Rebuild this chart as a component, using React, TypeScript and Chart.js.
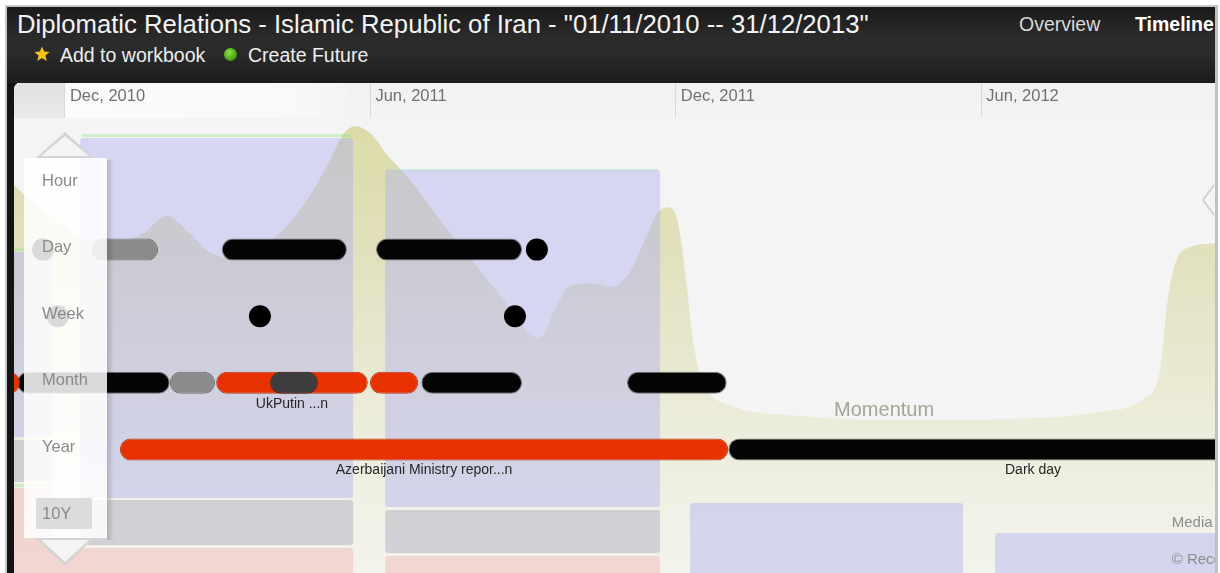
import React, { useEffect, useRef } from "react";
import { Chart, registerables } from "chart.js";

Chart.register(...registerables);

// Time is measured in months since 1 Nov 2010
const viewStart = 0;
const viewEnd = 23.59;
const tickValues = [1, 7, 13, 19];
const tickLabels = ["Dec, 2010", "Jun, 2011", "Dec, 2011", "Jun, 2012"];
const selectedRange = [1, 6.55];

// Zoom-level rows of the timeline (index = row)
const rowLabels = ["Hour", "Day", "Week", "Month", "Year", "10Y"];
const rowMin = -0.976;
const rowMax = 5.856;

const blackBars = [
  { x: [4.08, 6.54], y: 1 },
  { x: [7.11, 9.98], y: 1 },
  { x: [0.06, 3.06], y: 3 },
  { x: [8.0, 9.98], y: 3 },
  { x: [12.04, 14.0], y: 3 },
  { x: [14.03, 26.0], y: 4, label: "Dark day" },
];
const redBars = [
  { x: [-1, 0.12], y: 3 },
  { x: [3.97, 6.95], y: 3, label: "UkPutin ...n" },
  { x: [6.99, 7.94], y: 3 },
  { x: [2.08, 14.03], y: 4, label: "Azerbaijani Ministry repor...n" },
];
const grayBars = [
  { x: [1.53, 2.83], y: 1 },
  { x: [3.06, 3.95], y: 3 },
];
const darkGrayBars = [{ x: [5.03, 5.97], y: 3 }];
const eventDots = [
  { x: 0.57, y: 1 },
  { x: 10.27, y: 1 },
  { x: 0.86, y: 2 },
  { x: 4.83, y: 2 },
  { x: 9.84, y: 2 },
];

// Momentum curve (0-100)
const momentumMonths = [
  0, 0.31, 0.71, 1.3, 1.89, 2.57, 3.0, 3.46, 3.85, 4.34, 4.83, 5.32, 5.81, 6.21, 6.5, 6.7,
  6.99, 7.38, 7.78, 8.37, 9.15, 9.74, 10.13, 10.33, 10.62, 10.92, 11.31, 11.74, 12.1, 12.39,
  12.65, 12.84, 13.04, 13.2, 13.35, 13.57, 14.06, 15.44, 17.4, 19.36, 21.33, 22.21, 22.51,
  22.66, 22.82, 23.09, 23.59,
];
const momentumValues = [
  85.3, 82.0, 78.7, 73.8, 71.9, 74.9, 78.5, 74.5, 70.5, 69.2, 71.2, 75.8, 82.9, 90.8, 96.9, 98.2,
  96.7, 91.2, 86.4, 77.6, 66.6, 58.2, 52.7, 51.6, 57.8, 63.1, 63.7, 62.9, 66.2, 73.2,
  79.3, 80.4, 77.1, 64.4, 50.1, 41.3, 36.9, 34.5, 33.6, 33.8, 35.4, 38.5, 44.6,
  60.0, 68.4, 71.6, 72.5,
];

// Background lanes (months / row units)
const laneStart = [-0.5, -0.5, -0.5, 0.75, 1.3, 1.3, 7.29, 7.29, 7.29, 13.28, 19.27];
const laneEnd = [0.75, 0.75, 0.75, 6.66, 6.66, 6.66, 12.69, 12.69, 12.69, 18.64, 25];
const laneTop = [1.036, 3.859, 4.58, 5.48, -0.676, 4.76, -0.195, 4.91, 5.601, 4.805, 5.255];
const laneBottom = [3.814, 4.489, 6.11, 6.11, 4.73, 5.435, 4.865, 5.556, 6.11, 6.11, 6.11];
const laneKind = ["media", "entity", "alert", "alert", "media", "entity", "media", "entity", "alert", "media", "media"];
const laneAccent = [true, false, true, false, true, false, true, false, false, false, false];

const FONT = '"Liberation Sans", Arial, Helvetica, sans-serif';

const laneFill: Record<string, string> = {
  media: "rgba(172,172,240,0.42)",
  entity: "rgba(168,168,190,0.45)",
  alert: "rgba(240,160,160,0.35)",
};

function roundRect(ctx: CanvasRenderingContext2D, x: number, y: number, w: number, h: number, r: number) {
  ctx.beginPath();
  ctx.moveTo(x + r, y);
  ctx.lineTo(x + w - r, y);
  ctx.quadraticCurveTo(x + w, y, x + w, y + r);
  ctx.lineTo(x + w, y + h - r);
  ctx.quadraticCurveTo(x + w, y + h, x + w - r, y + h);
  ctx.lineTo(x + r, y + h);
  ctx.quadraticCurveTo(x, y + h, x, y + h - r);
  ctx.lineTo(x, y + r);
  ctx.quadraticCurveTo(x, y, x + r, y);
  ctx.closePath();
}

export default function App() {
  const ref = useRef<HTMLCanvasElement>(null);

  useEffect(() => {
    const canvas = ref.current;
    if (!canvas) return;

    const bgPlugin = {
      id: "bgPlugin",
      beforeDraw(chart: any) {
        const { ctx, width, height, chartArea } = chart;
        const xs = chart.scales.x;
        ctx.save();
        ctx.fillStyle = "#f4f4f4";
        ctx.fillRect(0, 0, width, height);
        const top = chartArea.top;
        const g = ctx.createLinearGradient(0, 0, 0, top);
        g.addColorStop(0, "#f1f1f1");
        g.addColorStop(1, "#f3f3f3");
        ctx.fillStyle = g;
        ctx.fillRect(0, 0, width, top);
        const a = xs.getPixelForValue(viewStart);
        const b = xs.getPixelForValue(selectedRange[0]);
        const c = xs.getPixelForValue(selectedRange[1]);
        const g2 = ctx.createLinearGradient(0, 0, 0, top);
        g2.addColorStop(0, "#e2e2e2");
        g2.addColorStop(1, "#e9e9e9");
        ctx.fillStyle = g2;
        ctx.fillRect(a, 0, b - a, top);
        const g3 = ctx.createLinearGradient(b, 0, c, 0);
        g3.addColorStop(0, "#fbfbfb");
        g3.addColorStop(0.85, "#f8f8f8");
        g3.addColorStop(1, "#f3f3f3");
        ctx.fillStyle = g3;
        ctx.fillRect(b, 0, c - b, top);
        ctx.restore();
      },
    };

    const lanePlugin = {
      id: "lanePlugin",
      afterDatasetDraw(chart: any, args: any) {
        if (args.index !== 0) return;
        const { ctx, chartArea } = chart;
        const xs = chart.scales.x;
        const ys = chart.scales.y;
        ctx.save();
        ctx.beginPath();
        ctx.rect(chartArea.left, chartArea.top, chartArea.right - chartArea.left, chartArea.bottom - chartArea.top);
        ctx.clip();
        for (let i = 0; i < laneStart.length; i++) {
          const x0 = xs.getPixelForValue(laneStart[i]);
          const x1 = xs.getPixelForValue(laneEnd[i]);
          const y0 = ys.getPixelForValue(laneTop[i]);
          const y1 = ys.getPixelForValue(laneBottom[i]);
          ctx.fillStyle = laneFill[laneKind[i]];
          roundRect(ctx, x0, y0, x1 - x0, y1 - y0, 3);
          ctx.fill();
          if (laneAccent[i]) {
            ctx.fillStyle = i === 6 ? "rgba(150,220,200,0.35)" : "rgba(150,230,140,0.42)";
            ctx.fillRect(x0 + 2, y0 - (i === 6 ? 1 : 4), x1 - x0 - 4, i === 6 ? 2 : 3);
          }
        }
        // lane texts
        ctx.fillStyle = "#a4a496";
        ctx.font = `20px ${FONT}`;
        ctx.textAlign = "center";
        ctx.textBaseline = "middle";
        ctx.fillText("Momentum", xs.getPixelForValue(17.09), ys.getPixelForValue(3.41));
        ctx.fillStyle = "#8c8c8c";
        ctx.font = `15px ${FONT}`;
        ctx.textAlign = "left";
        ctx.fillText("Media", xs.getPixelForValue(22.74), ys.getPixelForValue(5.105));
        ctx.fillText("\u00A9 Recorded Future", xs.getPixelForValue(22.74), ys.getPixelForValue(5.66));
        ctx.restore();
      },
    };

    const overlayPlugin = {
      id: "overlayPlugin",
      afterDatasetsDraw(chart: any) {
        const { ctx, chartArea } = chart;
        const xs = chart.scales.x;
        const ys = chart.scales.y;
        ctx.save();
        // bar labels
        ctx.font = `14px ${FONT}`;
        ctx.fillStyle = "#262626";
        ctx.textAlign = "center";
        ctx.textBaseline = "middle";
        [blackBars, redBars, grayBars, darkGrayBars].forEach((set) => {
          set.forEach((b: any) => {
            if (!b.label) return;
            const cx = xs.getPixelForValue((b.x[0] + b.x[1]) / 2);
            ctx.fillText(b.label, cx, ys.getPixelForValue(b.y) + 21);
          });
        });

        // right chevron
        ctx.strokeStyle = "rgba(200,200,200,0.8)";
        ctx.lineWidth = 2;
        ctx.beginPath();
        ctx.moveTo(chartArea.right - 1, 102);
        ctx.lineTo(chartArea.right - 12, 117);
        ctx.lineTo(chartArea.right - 1, 132);
        ctx.stroke();

        // zoom panel
        const pl = 10, pr = 93, pt = 75, pb = 455;
        const sg = ctx.createLinearGradient(pr, 0, pr + 7, 0);
        sg.addColorStop(0, "rgba(0,0,0,0.16)");
        sg.addColorStop(1, "rgba(0,0,0,0)");
        ctx.fillStyle = sg;
        ctx.fillRect(pr, pt + 2, 7, pb - pt);
        ctx.fillStyle = "rgba(255,255,255,0.85)";
        ctx.fillRect(pl, pt, pr - pl, pb - pt);

        // arrows
        const tri = (ax: number, ay: number, bx1: number, bx2: number, by: number, fill: string) => {
          ctx.beginPath();
          ctx.moveTo(ax, ay);
          ctx.lineTo(bx1, by);
          ctx.lineTo(bx2, by);
          ctx.closePath();
          ctx.fillStyle = fill;
          ctx.fill();
        };
        tri(51, 49, 22, 80, 75, "#d4d4d4");
        tri(51, 53, 27, 75, 73, "#f4f4f4");
        tri(51, 483, 22, 80, 455, "#d4d4d4");
        tri(51, 479, 27, 75, 457, "#f4f4f4");

        // row labels
        ctx.font = `16.5px ${FONT}`;
        ctx.textAlign = "left";
        ctx.textBaseline = "middle";
        rowLabels.forEach((lab, i) => {
          const y = ys.getPixelForValue(i) - 2;
          if (i === rowLabels.length - 1) {
            ctx.fillStyle = "#dcdcdc";
            roundRect(ctx, 22, y - 16, 56, 31, 2);
            ctx.fill();
          }
          ctx.fillStyle = "#8a8a8a";
          ctx.fillText(lab, 28, y);
        });
        ctx.restore();
      },
    };

    const barCommon = {
      type: "bar" as const,
      indexAxis: "y" as const,
      xAxisID: "x",
      yAxisID: "y",
      grouped: false,
      maxBarThickness: 22,
      borderRadius: 11,
      borderSkipped: false,
      borderWidth: 1,
    };

    const chart = new Chart(canvas, {
      type: "bar",
      data: {
        datasets: [
          {
            type: "line",
            label: "Momentum",
            data: momentumMonths.map((m, i) => ({ x: m, y: momentumValues[i] })),
            xAxisID: "x",
            yAxisID: "y2",
            fill: "start",
            borderWidth: 0,
            pointRadius: 0,
            cubicInterpolationMode: "monotone",
            order: 10,
            backgroundColor: (c: any) => {
              const a = c.chart.chartArea;
              if (!a) return "rgb(226,225,190)";
              const g = c.chart.ctx.createLinearGradient(0, a.top, 0, a.bottom);
              g.addColorStop(0, "rgb(219,218,166)");
              g.addColorStop(0.3, "rgb(226,225,190)");
              g.addColorStop(0.7, "rgb(237,237,221)");
              g.addColorStop(1, "rgb(243,243,237)");
              return g;
            },
          } as any,
          { ...barCommon, label: "Black", data: blackBars, backgroundColor: "#050505", borderColor: "rgba(80,80,80,0.7)", order: 5 } as any,
          { ...barCommon, label: "Red", data: redBars, backgroundColor: "#e83100", borderColor: "rgba(175,40,0,0.85)", order: 4 } as any,
          { ...barCommon, label: "Gray", data: grayBars, backgroundColor: "#8b8b8b", borderColor: "#727272", order: 3 } as any,
          { ...barCommon, label: "Dark", data: darkGrayBars, backgroundColor: "#3d3d3d", borderColor: "#2e2e2e", order: 2 } as any,
          {
            type: "line",
            label: "Dots",
            data: eventDots,
            xAxisID: "x",
            yAxisID: "y",
            showLine: false,
            pointRadius: 11,
            pointBorderWidth: 0,
            pointBackgroundColor: "#000",
            order: 1,
          } as any,
        ],
      },
      options: {
        animation: false,
        responsive: false,
        devicePixelRatio: 1,
        events: [],
        layout: { padding: 0, autoPadding: false },
        plugins: { legend: { display: false }, tooltip: { enabled: false }, title: { display: false } },
        scales: {
          x: {
            type: "linear",
            position: "top",
            offset: false,
            min: viewStart,
            max: viewEnd,
            afterBuildTicks: (s: any) => {
              s.ticks = tickValues.map((v) => ({ value: v }));
            },
            afterFit: (s: any) => {
              s.height = 35;
              s.paddingLeft = 0;
              s.paddingRight = 0;
            },
            grid: { offset: false, drawOnChartArea: false, drawTicks: true, tickLength: 35, color: "#d9d9d9", lineWidth: 1 },
            border: { display: false },
            ticks: {
              align: "start",
              padding: -23,
              labelOffset: 5,
              color: "#707070",
              font: { family: FONT, size: 16.5 },
              autoSkip: false,
              maxRotation: 0,
              callback: (_v: any, i: number) => tickLabels[i] ?? "",
            },
          },
          y: { type: "linear", display: false, offset: false, grid: { offset: false }, reverse: true, min: rowMin, max: rowMax },
          y2: { type: "linear", display: false, offset: false, grid: { offset: false }, min: 0, max: 100 },
        },
      } as any,
      plugins: [bgPlugin, lanePlugin, overlayPlugin],
    });

    return () => chart.destroy();
  }, []);

  const header: React.CSSProperties = {
    position: "absolute",
    left: 7,
    top: 7,
    width: 1208,
    height: 76,
    background: "linear-gradient(180deg,#1a1a1a 0%,#2b2b2b 40%,#2a2a2a 62%,#1c1c1c 100%)",
    overflow: "hidden",
  };

  return (
    <div
      style={{
        position: "fixed",
        left: 0,
        top: 0,
        width: 1220,
        height: 573,
        background: "#ffffff",
        overflow: "hidden",
        fontFamily: FONT,
      }}
    >
      <div style={{ position: "absolute", left: 5, top: 5, width: 1213, height: 2, background: "#c8c8c8" }} />
      <div style={{ position: "absolute", left: 5, top: 5, width: 2, height: 568, background: "#c8c8c8" }} />
      <div style={{ position: "absolute", left: 1215, top: 5, width: 3, height: 568, background: "#c0c0c0" }} />
      <div style={header}>
        <div style={{ position: "absolute", left: 10, top: 2, fontSize: 25.7, lineHeight: "30px", color: "#f3f3f3", whiteSpace: "nowrap" }}>
          Diplomatic Relations - Islamic Republic of Iran - "01/11/2010 -- 31/12/2013"
        </div>
        <svg style={{ position: "absolute", left: 27, top: 39 }} width="16" height="16" viewBox="0 0 16 16">
          <polygon points="8,0.5 10.2,5.6 15.6,5.9 11.4,9.4 12.8,15 8,11.9 3.2,15 4.6,9.4 0.4,5.9 5.8,5.6" fill="#f3c31b" />
        </svg>
        <div style={{ position: "absolute", left: 53, top: 36, fontSize: 19.5, lineHeight: "24px", color: "#eeeeee", whiteSpace: "nowrap" }}>
          Add to workbook
        </div>
        <div
          style={{
            position: "absolute",
            left: 217,
            top: 41,
            width: 13,
            height: 13,
            borderRadius: "50%",
            background: "radial-gradient(circle at 40% 35%, #8fe040 0%, #4aa818 60%, #2f7a0c 100%)",
          }}
        />
        <div style={{ position: "absolute", left: 241, top: 36, fontSize: 19.5, lineHeight: "24px", color: "#eeeeee", whiteSpace: "nowrap" }}>
          Create Future
        </div>
        <div style={{ position: "absolute", left: 1012, top: 5, fontSize: 19.5, lineHeight: "24px", color: "#d8d8d8", whiteSpace: "nowrap" }}>
          Overview
        </div>
        <div style={{ position: "absolute", left: 1128, top: 5, fontSize: 19.5, lineHeight: "24px", color: "#ffffff", fontWeight: "bold", whiteSpace: "nowrap" }}>
          Timeline
        </div>
      </div>
      <div style={{ position: "absolute", left: 7, top: 83, width: 10, height: 490, background: "#141414" }} />
      <div
        style={{
          position: "absolute",
          left: 14,
          top: 83,
          width: 1201,
          height: 490,
          borderTopLeftRadius: 6,
          overflow: "hidden",
          background: "#f4f4f4",
        }}
      >
        <canvas ref={ref} width={1201} height={490} style={{ display: "block", width: 1201, height: 490 }} />
      </div>
    </div>
  );
}
